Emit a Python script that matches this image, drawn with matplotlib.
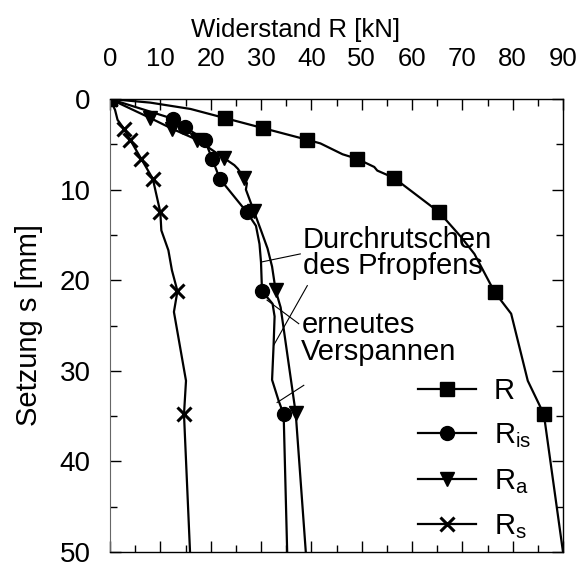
import numpy as np
import matplotlib.pyplot as plt
from matplotlib.ticker import MultipleLocator

plt.rcParams['font.family'] = ['Liberation Sans', 'DejaVu Sans']
plt.rcParams['mathtext.fontset'] = 'custom'
plt.rcParams['mathtext.rm'] = 'Liberation Sans'
plt.rcParams['mathtext.it'] = 'Liberation Sans'

# Gesamtwiderstand R
s_R = [0, 0.4, 1.1, 2.1, 3.2, 4.5, 4.9, 6.1, 6.6, 7.5, 7.9, 8.7, 12.5, 15.2, 17.1, 21.3, 23.7, 31.1, 34.8, 50]
R = [0, 8.0, 16.0, 22.8, 30.3, 39.2, 41.8, 46.2, 49.1, 52.5, 53.1, 56.4, 65.4, 69.7, 72.4, 76.4, 79.7, 83.0, 86.2, 90.0]
mark_R = [0, 3, 4, 5, 8, 11, 12, 15, 18]

# Innenreibung R_is
s_is = [0, 2.2, 3.1, 4.5, 6.6, 8.8, 12.5, 14.0, 16.0, 18.0, 21.2, 22.6, 24.0, 27.2, 31.0, 33.3, 34.8, 50]
R_is = [0, 12.6, 14.9, 18.8, 20.3, 21.8, 27.2, 29.0, 29.7, 30.0, 30.2, 32.3, 32.7, 32.5, 32.2, 33.5, 34.5, 35.2]
mark_is = [0, 1, 2, 3, 4, 5, 6, 10, 16]

# Aussenreibung R_a
s_a = [0, 2.1, 3.3, 4.5, 6.5, 7.3, 7.7, 8.7, 9.3, 10.0, 12.4, 14.5, 16.5, 18.5, 21.1, 23.0, 34.7, 50]
R_a = [0, 8.0, 12.4, 17.3, 22.6, 24.7, 25.4, 26.6, 27.2, 27.0, 28.6, 30.0, 31.3, 32.2, 32.9, 33.9, 36.9, 38.9]
mark_a = [0, 1, 2, 3, 4, 7, 10, 14, 16]

# Spitzenwiderstand R_s
s_s = [0, 1.2, 2.3, 3.3, 4.5, 6.6, 8.8, 12.5, 14.5, 16.7, 18.9, 21.2, 23.5, 31.1, 34.8, 50]
R_s = [0, 1.0, 1.5, 2.8, 4.0, 6.2, 8.5, 10.0, 10.2, 11.6, 12.3, 13.4, 12.7, 15.1, 14.7, 15.9]
mark_s = [0, 3, 4, 5, 6, 7, 11, 14]

fs = 21

fig = plt.figure(figsize=(5.81, 5.68), dpi=100)
ax = fig.add_axes([110 / 581, 1 - 552 / 568, 453 / 581, 453 / 568])

lw = 1.6
ax.plot(R, s_R, color='black', lw=lw, marker='s', markersize=10, markevery=mark_R, label='R')
ax.plot(R_is, s_is, color='black', lw=lw, marker='o', markersize=10, markevery=mark_is,
        label=r'R$_\mathregular{is}$')
ax.plot(R_a, s_a, color='black', lw=lw, marker='v', markersize=10, markevery=mark_a,
        label=r'R$_\mathregular{a}$')
ax.plot(R_s, s_s, color='black', lw=lw, marker='x', markersize=10, markeredgewidth=2.2,
        markevery=mark_s, label=r'R$_\mathregular{s}$')

# Beschriftungen mit Hinweislinien
ax.text(38.3, 17.0, 'Durchrutschen\ndes Pfropfens', fontsize=fs, ha='left', va='center',
        linespacing=0.95)
ax.text(38.0, 26.4, 'erneutes\nVerspannen', fontsize=fs, ha='left', va='center',
        linespacing=0.95)
ax.plot([37.8, 30.0], [17.1, 18.0], color='black', lw=0.8)
ax.plot([39.2, 32.5], [20.6, 27.2], color='black', lw=0.8)
ax.plot([37.5, 31.2], [24.8, 22.2], color='black', lw=0.8)
ax.plot([38.5, 33.2], [31.6, 33.5], color='black', lw=0.8)

ax.set_xlim(0, 90)
ax.set_ylim(50, 0)
ax.xaxis.set_major_locator(MultipleLocator(10))
ax.xaxis.set_minor_locator(MultipleLocator(5))
ax.yaxis.set_major_locator(MultipleLocator(10))
ax.yaxis.set_minor_locator(MultipleLocator(5))
ax.tick_params(which='both', direction='in', top=True, bottom=True, left=True, right=True,
               labeltop=True, labelbottom=False, width=1)
ax.tick_params(which='major', length=8)
ax.tick_params(which='minor', length=5)
ax.tick_params(axis='x', pad=20, labelsize=18.5)
ax.tick_params(axis='y', pad=14, labelsize=20)

for side in ['top', 'right', 'bottom']:
    ax.spines[side].set_linewidth(1.0)
ax.spines['left'].set_color('#666666')

ax.xaxis.set_label_position('top')
ax.set_xlabel('Widerstand R [kN]', fontsize=18.5)
ax.xaxis.set_label_coords((295.5 - 110) / 453, 1 + 62 / 453)
ax.set_ylabel('Setzung s [mm]', fontsize=fs)
ax.yaxis.set_label_coords(-67 / 453, 0.5)

ax.legend(loc='lower left', bbox_to_anchor=((418 - 110) / 453, 0.024), frameon=False,
          fontsize=fs, handlelength=2.0, handletextpad=0.6, labelspacing=0.57,
          borderaxespad=0, borderpad=0)

fig.savefig('out.png', dpi=100)
